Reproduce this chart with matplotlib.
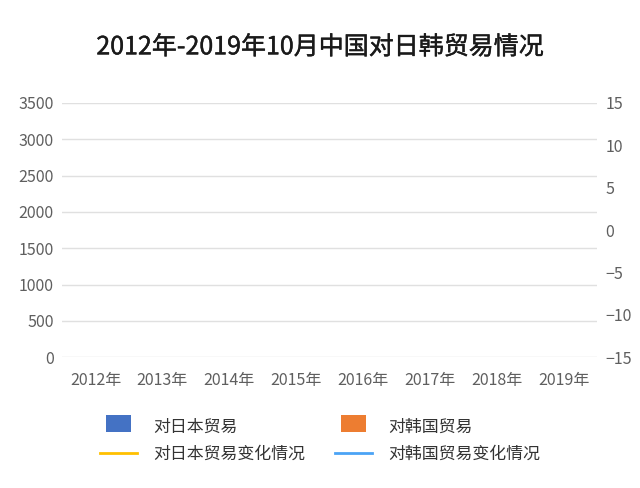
import matplotlib
matplotlib.use("Agg")
import matplotlib.pyplot as plt
import matplotlib.patches as mpatches
import matplotlib.patheffects as pe
from matplotlib.legend_handler import HandlerPatch
import numpy as np

plt.rcParams["font.family"] = ["Noto Sans CJK SC", "DejaVu Sans"]
plt.rcParams["axes.unicode_minus"] = True

# categories
years = ["2012年", "2013年", "2014年", "2015年", "2016年", "2017年", "2018年", "2019年"]
# series values: nothing is drawn in the reference, so all values are missing
trade_japan = [np.nan] * len(years)
trade_korea = [np.nan] * len(years)
change_japan = [np.nan] * len(years)
change_korea = [np.nan] * len(years)

left_ticks = [0, 500, 1000, 1500, 2000, 2500, 3000, 3500]
right_ticks = [-15, -10, -5, 0, 5, 10, 15]

c_jp_bar = "#4472C4"
c_kr_bar = "#ED7D31"
c_jp_line = "#FFC000"
c_kr_line = "#4BA3F5"
tick_color = "#5f5f5f"


def _square_patch(legend, orig_handle, xdescent, ydescent, width, height, fontsize):
    # narrower, taller box than the default legend patch
    pw = width * 0.68
    ph = fontsize * 1.0
    return mpatches.Rectangle(((width - pw) / 2 - xdescent, (height - ph) / 2 - ydescent + 1.5), pw, ph)


fig = plt.figure(figsize=(6.4, 4.88), dpi=100)
ax = fig.add_axes([0.097, 0.268, 0.836, 0.521])
ax2 = ax.twinx()

x = np.arange(len(years))
w = 0.35
b1 = ax.bar(x - w / 2, trade_japan, w, color=c_jp_bar, label="对日本贸易")
b2 = ax.bar(x + w / 2, trade_korea, w, color=c_kr_bar, label="对韩国贸易")
l1, = ax2.plot(x, change_japan, color=c_jp_line, lw=2, label="对日本贸易变化情况")
l2, = ax2.plot(x, change_korea, color=c_kr_line, lw=2, label="对韩国贸易变化情况")

ax.set_xlim(-0.5, len(years) - 0.5)
ax.set_ylim(0, 3500)
ax.set_yticks(left_ticks)
ax2.set_ylim(-15, 15)
ax2.set_yticks(right_ticks)
ax.set_xticks(x)
ax.set_xticklabels(years)

ax.grid(axis="y", color="#e0e0e0", lw=1)
ax.set_axisbelow(True)
for a in (ax, ax2):
    for s in a.spines.values():
        s.set_visible(False)
    a.tick_params(length=0, labelsize=11.5, colors=tick_color)
ax.tick_params(axis="y", pad=6)
ax.tick_params(axis="x", pad=11)
ax2.tick_params(axis="y", pad=6)

fig.text(0.5, 0.903, "2012年-2019年10月中国对日韩贸易情况",
         ha="center", va="center", fontsize=18, color="#1a1a1a",
         path_effects=[pe.withStroke(linewidth=0.3, foreground="#1a1a1a")])

fig.legend([b1[0], l1, b2[0], l2],
           ["对日本贸易", "对日本贸易变化情况", "对韩国贸易", "对韩国贸易变化情况"],
           ncol=2, loc="center", bbox_to_anchor=(0.5, 0.098), frameon=False,
           fontsize=12.2, labelcolor="#333333", columnspacing=1.8,
           handlelength=2.15, handletextpad=0.95, labelspacing=0.55,
           handler_map={mpatches.Rectangle: HandlerPatch(patch_func=_square_patch)})

fig.savefig("out.png", dpi=100)
